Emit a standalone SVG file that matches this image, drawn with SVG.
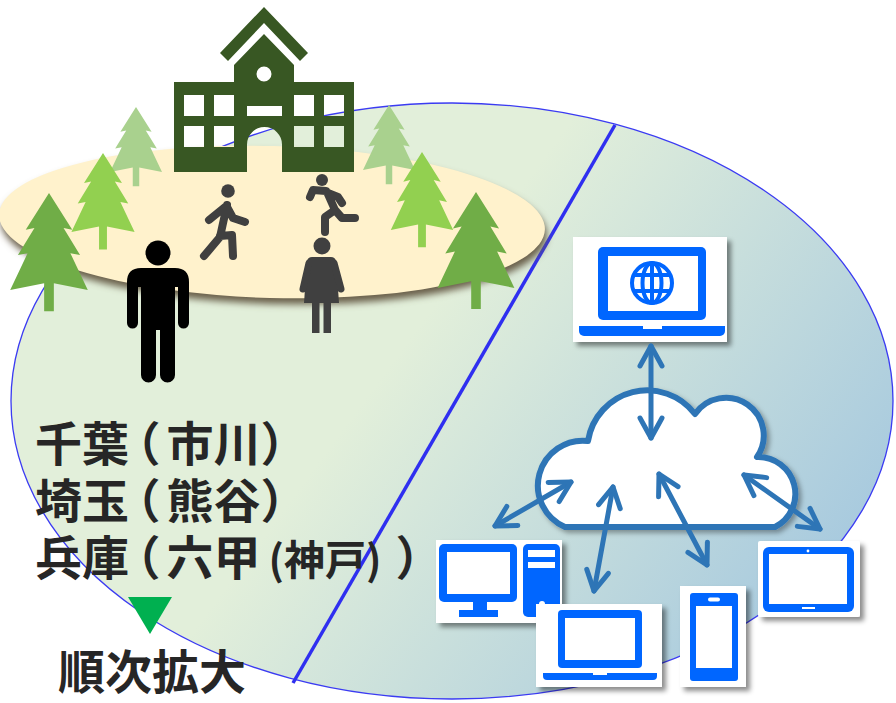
<svg xmlns="http://www.w3.org/2000/svg" width="896" height="703" viewBox="0 0 896 703">
  <defs>
    <linearGradient id="fieldGrad" x1="0" y1="0.25" x2="1" y2="0.75">
      <stop offset="0.42" stop-color="#E2EFDA"/>
      <stop offset="1" stop-color="#A3C7DF"/>
    </linearGradient>
    <filter id="sandShade" x="-10%" y="-20%" width="120%" height="150%">
      <feGaussianBlur stdDeviation="3.5"/>
    </filter>
    <filter id="cardShadow" x="-20%" y="-20%" width="150%" height="150%">
      <feDropShadow dx="4" dy="4" stdDeviation="2.5" flood-color="#000" flood-opacity="0.45"/>
    </filter>
    <filter id="cloudShadow" x="-10%" y="-10%" width="130%" height="130%">
      <feDropShadow dx="3" dy="3" stdDeviation="2.5" flood-color="#000" flood-opacity="0.35"/>
    </filter>
    <path id="tree" d="M0,0 L24,38 L15,36 L32,64 L22,62 L40,100 L5,93 L5,122 L-5,122 L-5,93 L-40,100 L-22,62 L-32,64 L-15,36 L-24,38 Z"/>
    <marker id="head" markerUnits="userSpaceOnUse" orient="auto-start-reverse" refX="0" refY="0" markerWidth="40" markerHeight="40" overflow="visible">
      <path d="M-20,-11 L0,0 L-20,11" fill="none" stroke="#2E75B6" stroke-width="5" stroke-linecap="round" stroke-linejoin="round"/>
    </marker>
    <style>
      .txt { font-family: "Noto Sans CJK JP", "Noto Sans CJK SC", sans-serif; font-weight: 700; fill: #262626; font-feature-settings: "palt"; }
      .dev { fill: #0066FF; }
      .card { fill: #FFFFFF; filter: url(#cardShadow); }
      .arrow { fill: none; stroke: #2E75B6; stroke-width: 5; stroke-linecap: round; marker-start: url(#head); marker-end: url(#head); }
      .limb { fill: none; stroke: #404040; stroke-width: 8; stroke-linecap: round; stroke-linejoin: round; }
    </style>
  </defs>

  <!-- large field ellipse and its divider -->
  <g id="field">
    <ellipse cx="452" cy="401" rx="441" ry="298" fill="url(#fieldGrad)" stroke="#3B3BF2" stroke-width="1.3"/>
    <line x1="615" y1="125" x2="293" y2="683" stroke="#2F2FF0" stroke-width="3.5"/>
  </g>

  <!-- sandy ground -->
  <g id="ground" transform="rotate(1.6 272 222)">
    <ellipse cx="274" cy="228" rx="273" ry="76" fill="#6A604B" filter="url(#sandShade)"/>
    <ellipse cx="272" cy="222" rx="273" ry="76" fill="#FFF2CC"/>
  </g>

  <!-- pine trees -->
  <g id="trees">
    <use href="#tree" fill="#A9D18E" transform="translate(136 107) scale(0.65)"/>
    <use href="#tree" fill="#A9D18E" transform="translate(389 105) scale(0.65)"/>
    <use href="#tree" fill="#92D050" transform="translate(103 153) scale(0.79)"/>
    <use href="#tree" fill="#92D050" transform="translate(422 152) scale(0.78)"/>
    <use href="#tree" fill="#70AD47" transform="translate(49 193) scale(0.97)"/>
    <use href="#tree" fill="#70AD47" transform="translate(476 192) scale(0.96)"/>
  </g>

  <!-- school building -->
  <g id="school" fill="#385723">
    <path d="M264,7 L308,53 L300,61 L264,23 L228,61 L220,53 Z"/>
    <path fill-rule="evenodd" d="M264,34 L294,65 V82 H354 V172 H282 V144.5 A17.5,17.5 0 0 0 247,144.5 V172 H174 V82 H234 V65 Z
      M256.5,74 a7.5,7.5 0 1 0 15,0 a7.5,7.5 0 1 0 -15,0 Z
      M184,95 h20 v21 h-20 Z M214,95 h20 v21 h-20 Z M294,95 h20 v21 h-20 Z M324,95 h20 v21 h-20 Z
      M184,126 h20 v21 h-20 Z M214,126 h20 v21 h-20 Z M294,126 h20 v21 h-20 Z M324,126 h20 v21 h-20 Z
      M247,106 h35 v10 h-35 Z"/>
  </g>

  <!-- people -->
  <g id="man">
    <circle cx="158" cy="253" r="12.5" fill="#000"/>
    <path fill="#000" d="M127,282 Q127,268 141,268 H175 Q189,268 189,282 V323 a5.5,5.5 0 0 1 -11,0 V287 H175 V375 a7.5,7.5 0 0 1 -15,0 V330 H156 V375 a7.5,7.5 0 0 1 -15,0 V287 H138 V323 a5.5,5.5 0 0 1 -11,0 Z"/>
  </g>
  <g id="woman" fill="#404040">
    <circle cx="322" cy="246" r="8.5"/>
    <path d="M312,257 H331 Q335,257 336,261 L339,303 H304 L307,261 Q308,257 312,257 Z"/>
    <path d="M309,263 L303,289 M334,263 L341,289" stroke="#404040" stroke-width="7" stroke-linecap="round" fill="none"/>
    <rect x="312" y="300" width="7.5" height="33"/>
    <rect x="323.5" y="300" width="7.5" height="33"/>
  </g>
  <g id="walker">
    <circle cx="228" cy="191" r="6.8" fill="#404040"/>
    <path class="limb" d="M227,205 L220,237 L204,256 M220,236 L232,235 L233,256 M227,207 L233,218 L245,222 M225,207 L209,220"/>
  </g>
  <g id="runner">
    <circle cx="322" cy="180" r="6" fill="#404040"/>
    <path class="limb" stroke-width="6.5" d="M327,192 L335,210 L342,218 L355,218 M335,210 L325,217 L325,232 M326,191 L313,190 L310,197 M328,193 L338,197 L342,203"/>
  </g>

  <!-- area list -->
  <g id="areas">
    <text class="txt" font-size="47" x="35" y="461" dx="0 0 6 8 0 2">千葉（市川）</text>
    <text class="txt" font-size="47" x="35" y="518" dx="0 0 6 8 0 2">埼玉（熊谷）</text>
    <text class="txt" font-size="47" x="35" y="575" dx="0 0 6 8 0">兵庫（六甲<tspan font-size="41" dx="8">(神戸)</tspan><tspan dx="16">）</tspan></text>
    <polygon points="128,597 172,597 150,634" fill="#00B050"/>
    <text class="txt" font-size="47" x="58" y="689">順次拡大</text>
  </g>

  <!-- cloud -->
  <g id="cloud">
    <path d="M565,527 A45,45 0 0 1 588,441 A60,60 0 0 1 695,414 A36,36 0 0 1 757,457 A37,37 0 0 1 775,527 Z" fill="#FFFFFF" stroke="#2E75B6" stroke-width="6" stroke-linejoin="round" filter="url(#cloudShadow)"/>
  </g>

  <!-- web laptop -->
  <g id="webLaptop">
    <rect class="card" x="573" y="237" width="154" height="105"/>
    <rect class="dev" x="598" y="247" width="108" height="73" rx="5"/>
    <rect x="608" y="256" width="90" height="55" fill="#FFFFFF"/>
    <path class="dev" d="M579,326 H725 V331 a5,5 0 0 1 -5,5 H584 a5,5 0 0 1 -5,-5 Z"/>
    <rect x="643" y="326" width="19" height="3" fill="#FFFFFF"/>
    <g fill="none" stroke="#0066FF" stroke-width="4">
      <circle cx="652" cy="283" r="20"/>
      <ellipse cx="652" cy="283" rx="9.5" ry="20"/>
      <line x1="652" y1="263" x2="652" y2="303"/>
      <line x1="634" y1="275" x2="670" y2="275"/>
      <line x1="634" y1="291" x2="670" y2="291"/>
    </g>
  </g>

  <!-- desktop computer -->
  <g id="desktop">
    <rect class="card" x="436" y="540" width="126" height="83"/>
    <rect class="dev" x="439" y="544" width="78" height="58" rx="5"/>
    <rect x="447" y="552" width="63" height="42" fill="#FFFFFF"/>
    <rect class="dev" x="473" y="601" width="14" height="10"/>
    <rect class="dev" x="459" y="610" width="39" height="7"/>
    <rect class="dev" x="523" y="544" width="37" height="73" rx="5"/>
    <rect x="528" y="550" width="27" height="7" fill="#FFFFFF"/>
    <rect x="528" y="562" width="27" height="6" fill="#FFFFFF"/>
    <circle cx="542" cy="604" r="3" fill="#FFFFFF"/>
  </g>

  <!-- laptop -->
  <g id="laptop">
    <rect class="card" x="536" y="604" width="126" height="83"/>
    <rect class="dev" x="558" y="610" width="84" height="58" rx="4"/>
    <rect x="565" y="618" width="70" height="42" fill="#FFFFFF"/>
    <path class="dev" d="M543,673 H657 V676 a4,4 0 0 1 -4,4 H547 a4,4 0 0 1 -4,-4 Z"/>
    <rect x="593" y="673" width="14" height="2" fill="#FFFFFF"/>
  </g>

  <!-- smartphone -->
  <g id="phone">
    <rect class="card" x="680" y="586" width="66" height="101"/>
    <rect class="dev" x="690" y="593" width="48" height="88" rx="3"/>
    <rect x="696" y="606" width="36" height="62" fill="#FFFFFF"/>
    <rect x="708" y="597.5" width="12" height="4" rx="2" fill="#FFFFFF"/>
  </g>

  <!-- tablet -->
  <g id="tablet">
    <rect class="card" x="758" y="541" width="102" height="76" rx="2"/>
    <rect class="dev" x="763" y="547" width="91" height="65" rx="6"/>
    <rect x="769" y="554" width="78" height="50" fill="#FFFFFF"/>
    <circle cx="808" cy="551" r="1.4" fill="#FFFFFF"/>
    <rect x="802" y="607" width="13" height="2" fill="#FFFFFF"/>
  </g>

  <!-- connections -->
  <g id="connectors">
    <line class="arrow" x1="651" y1="346" x2="651" y2="438"/>
    <line class="arrow" x1="571" y1="482" x2="495" y2="526"/>
    <line class="arrow" x1="613" y1="487" x2="594" y2="591"/>
    <line class="arrow" x1="659" y1="474" x2="707" y2="565"/>
    <line class="arrow" x1="744" y1="475" x2="820" y2="529"/>
  </g>
</svg>
